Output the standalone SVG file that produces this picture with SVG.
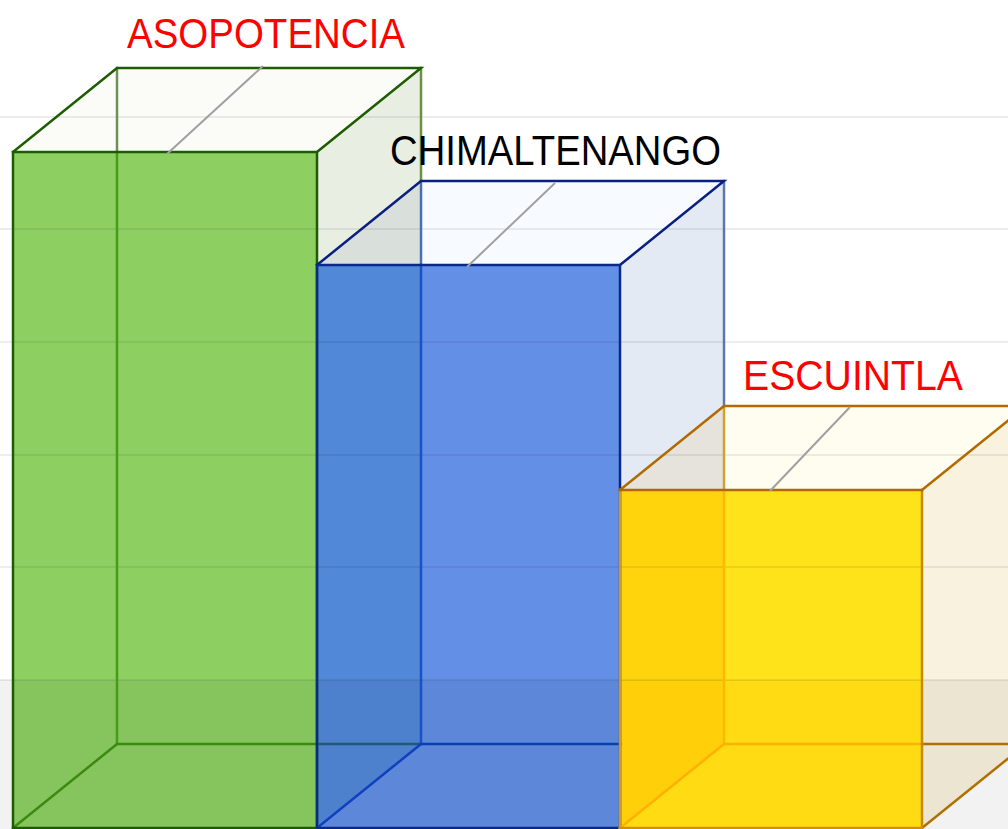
<svg xmlns="http://www.w3.org/2000/svg" width="1008" height="829" viewBox="0 0 1008 829">
<style>
.lbl{font-family:"Liberation Sans",Arial,sans-serif;font-size:43px}
.e{fill:none;stroke-width:2.5;stroke-linecap:square}
.ge{stroke:#1f5c00}
.be{stroke:#0a2080}
.ye{stroke:#b06a00}
.diag{stroke:#a0a0a0;stroke-width:2;fill:none}
.grid{stroke:#000;stroke-opacity:0.07;stroke-width:2}
</style>
<rect width="1008" height="829" fill="#ffffff"/>
<g id="faces">
  <!-- green box -->
  <polygon points="13,152 117,68 421,68 317,152" fill="#fbfcf8"/>
  <polygon points="317,152 421,68 421,744 317,828" fill="#e9eee3"/>
  <rect x="13" y="152" width="304" height="676" fill="#8ecf62"/>
  <!-- blue box -->
  <polygon points="317,265 421,181 421,265" fill="#d9e0dc"/>
  <polygon points="421,181 724,181 620,265 421,265" fill="#f7faff"/>
  <polygon points="620,265 724,181 724,744 620,828" fill="#e4eaf4"/>
  <rect x="317" y="265" width="303" height="563" fill="#6390e6"/>
  <polygon points="317,265 421,265 421,744 317,828" fill="#5288d8"/>
  <!-- yellow box -->
  <polygon points="620,490 724,406 724,490" fill="#e6e3dc"/>
  <polygon points="724,406 1026,406 922,490 724,490" fill="#fffdf0"/>
  <polygon points="922,490 1026,406 1026,744 922,828" fill="#f9f2de"/>
  <rect x="620" y="490" width="302" height="338" fill="#ffe31a"/>
  <polygon points="620,490 724,490 724,744 620,828" fill="#ffd40c"/>
</g>
<g id="grid">
  <line class="grid" x1="0" y1="117" x2="1008" y2="117"/>
  <line class="grid" x1="0" y1="229" x2="1008" y2="229"/>
  <line class="grid" x1="0" y1="342" x2="1008" y2="342"/>
  <line class="grid" x1="0" y1="455" x2="1008" y2="455"/>
  <line class="grid" x1="0" y1="567" x2="1008" y2="567"/>
  <rect x="0" y="680" width="1008" height="149" fill="#000" fill-opacity="0.05"/>
  <!-- yellow front below floor line stays saturated -->
  <rect x="620" y="681" width="302" height="147" fill="#ffdb14"/>
  <polygon points="620,681 724,681 724,744 620,828" fill="#ffd00a"/>
  <line class="grid" x1="0" y1="680" x2="1008" y2="680"/>
</g>
<g id="bar-asopotencia">
  <line class="e" stroke="#6f8f5a" x1="117" y1="68" x2="117" y2="152"/>
  <line class="e" stroke="#4a9a1a" x1="117" y1="152" x2="117" y2="744"/>
  <line class="e" stroke="#6a9040" stroke-width="3" x1="421" y1="68" x2="421" y2="181"/>
  <line class="e" stroke="#3d8a10" x1="117" y1="744" x2="317" y2="744"/>
  <line class="e" stroke="#3d8a10" x1="13" y1="828" x2="117" y2="744"/>
  <line class="e" stroke="#1e5a7a" x1="317" y1="744" x2="421" y2="744"/>
  <polyline class="e ge" points="13,152 117,68 421,68 317,152"/>
  <rect class="e ge" x="13" y="152" width="304" height="676"/>
  <line class="diag" x1="167" y1="154" x2="263" y2="66"/>
</g>
<g id="bar-chimaltenango">
  <line class="e" stroke="#4a6fb5" stroke-width="3" x1="421" y1="181" x2="421" y2="265"/>
  <line class="e" stroke="#1a50c8" stroke-width="3" x1="421" y1="265" x2="421" y2="744"/>
  <line class="e" stroke="#5a78b0" stroke-width="3" x1="724" y1="181" x2="724" y2="406"/>
  <line class="e" stroke="#0a40b0" x1="421" y1="744" x2="620" y2="744"/>
  <line class="e" stroke="#1040c0" x1="317" y1="828" x2="421" y2="744"/>
  <polyline class="e be" points="317,265 421,181 724,181 620,265"/>
  <rect class="e" stroke="#0a2a8a" x="317" y="265" width="303" height="563"/>
  <line class="diag" x1="467" y1="267" x2="555" y2="183"/>
</g>
<g id="bar-escuintla">
  <line class="e" stroke="#d0a030" stroke-width="3" x1="724" y1="406" x2="724" y2="490"/>
  <line class="e" stroke="#ffb800" stroke-width="3" x1="724" y1="490" x2="724" y2="744"/>
  <line class="e" stroke="#ffb000" x1="724" y1="744" x2="922" y2="744"/>
  <line class="e" stroke="#b07000" x1="922" y1="744" x2="1008" y2="744"/>
  <line class="e" stroke="#ffb000" x1="620" y1="828" x2="724" y2="744"/>
  <line class="e" stroke="#b07000" x1="922" y1="828" x2="1026" y2="744"/>
  <line class="e" stroke="#c89a30" stroke-width="3" x1="620" y1="490" x2="620" y2="828"/>
  <line class="e" stroke="#c48a00" stroke-width="3" x1="922" y1="490" x2="922" y2="828"/>
  <line class="e" stroke="#d09000" x1="620" y1="828" x2="922" y2="828"/>
  <polyline class="e ye" points="620,490 724,406 1026,406"/>
  <line class="e ye" x1="620" y1="490" x2="922" y2="490"/>
  <line class="e ye" x1="922" y1="490" x2="1026" y2="406"/>
  <line class="diag" x1="770" y1="491" x2="850" y2="407"/>
</g>
<g id="labels">
  <text class="lbl" x="127" y="48" fill="#ff0000" textLength="278" lengthAdjust="spacingAndGlyphs">ASOPOTENCIA</text>
  <text class="lbl" x="390" y="165" fill="#000000" textLength="331" lengthAdjust="spacingAndGlyphs">CHIMALTENANGO</text>
  <text class="lbl" x="743" y="390" fill="#ff0000" textLength="220" lengthAdjust="spacingAndGlyphs">ESCUINTLA</text>
</g>
</svg>
